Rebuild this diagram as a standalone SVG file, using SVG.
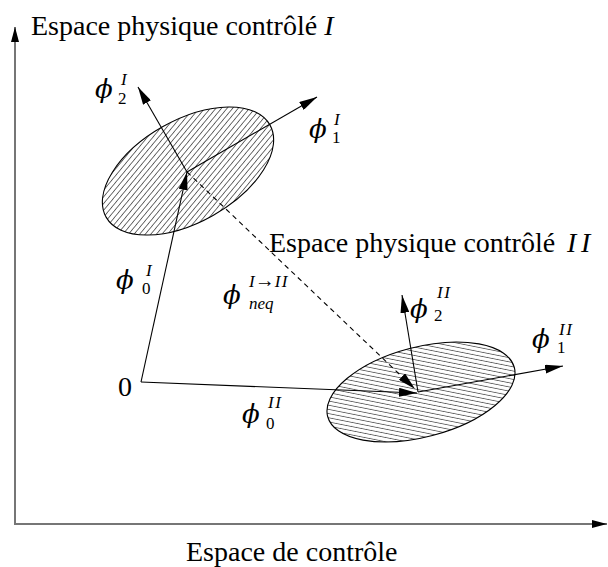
<svg xmlns="http://www.w3.org/2000/svg" width="608" height="567" viewBox="0 0 608 567">
<style>
.txt{font-family:"Liberation Serif","Times New Roman",serif;font-size:28px;fill:#000}
.it{font-style:italic}
.phi{font-family:"DejaVu Serif","Liberation Serif",serif;font-style:italic;font-size:26px;fill:#000}
.sc{font-family:"Liberation Serif","Times New Roman",serif;font-size:17px;fill:#000}
.ls{letter-spacing:1.5px}
.vec{stroke:#000;stroke-width:1.1;fill:none}
.axis{stroke:#767676;stroke-width:2;fill:none}
.ell{stroke:#000;stroke-width:1.1}
</style>
<defs>
<marker id="arr" viewBox="0 0 18 9" refX="18" refY="4.5" markerWidth="18" markerHeight="9" markerUnits="userSpaceOnUse" orient="auto">
<path d="M0,0 L18,4.5 L0,9 z" fill="#000"/>
</marker>
<marker id="axarr" viewBox="0 0 15 8" refX="15" refY="4" markerWidth="15" markerHeight="8" markerUnits="userSpaceOnUse" orient="auto">
<path d="M0,0 L15,4 L0,8 z" fill="#000"/>
</marker>
<pattern id="hatchI" patternUnits="userSpaceOnUse" width="12" height="4.3" patternTransform="rotate(-21)">
<line x1="0" y1="2.15" x2="12" y2="2.15" stroke="#000" stroke-width="0.6"/>
</pattern>
<pattern id="hatchII" patternUnits="userSpaceOnUse" width="12" height="4.1" patternTransform="rotate(26)">
<line x1="0" y1="2" x2="12" y2="2" stroke="#000" stroke-width="0.6"/>
</pattern>
</defs>

<g id="axes">
<line class="axis" x1="15" y1="524" x2="15" y2="27" marker-end="url(#axarr)"/>
<line class="axis" x1="14" y1="524" x2="607" y2="524" marker-end="url(#axarr)"/>
<text class="txt" x="31" y="35">Espace physique contrôlé <tspan class="it">I</tspan></text>
<text class="txt" x="186" y="561">Espace de contrôle</text>
</g>

<g id="ellipseI">
<ellipse class="ell" cx="188" cy="171" rx="94" ry="51" transform="rotate(-29.4 188 171)" fill="url(#hatchI)"/>
</g>

<g id="ellipseII">
<ellipse class="ell" cx="421" cy="392" rx="96.5" ry="45" transform="rotate(-14.7 421 392)" fill="url(#hatchII)"/>
<text class="txt" x="269" y="252">Espace physique contrôlé <tspan class="it" x="567">I</tspan><tspan class="it" x="581">I</tspan></text>
</g>

<g id="origin">
<text class="txt" x="118" y="396">0</text>
</g>

<g id="connectors">
<line class="vec" x1="141" y1="382" x2="187" y2="172" marker-end="url(#arr)"/>
<line class="vec" x1="141" y1="382" x2="417" y2="393" marker-end="url(#arr)"/>
<line class="vec" x1="187" y1="172" x2="317" y2="97" marker-end="url(#arr)"/>
<line class="vec" x1="187" y1="172" x2="138" y2="87" marker-end="url(#arr)"/>
<line class="vec" x1="418" y1="392" x2="402" y2="295" marker-end="url(#arr)"/>
<line class="vec" x1="418" y1="392" x2="563" y2="366" marker-end="url(#arr)"/>
<line class="vec" x1="187" y1="172" x2="415" y2="389" stroke-dasharray="5,4" marker-end="url(#arr)"/>
</g>

<g id="labels">
<text class="phi" x="95" y="98">ϕ</text><text class="sc it" x="121" y="85">I</text><text class="sc" x="118" y="104">2</text>
<text class="phi" x="309" y="138">ϕ</text><text class="sc it" x="334" y="125">I</text><text class="sc" x="332" y="143">1</text>
<text class="phi" x="116" y="289">ϕ</text><text class="sc it" x="146" y="276">I</text><text class="sc" x="142" y="294">0</text>
<text class="phi" x="223" y="304">ϕ</text><text class="sc it" x="249" y="287">I<tspan font-style="normal" font-size="20">→</tspan><tspan class="ls">II</tspan></text><text class="sc it" x="249" y="309">neq</text>
<text class="phi" x="242" y="423">ϕ</text><text class="sc it ls" x="268" y="408">II</text><text class="sc" x="266" y="429">0</text>
<text class="phi" x="410" y="318">ϕ</text><text class="sc it ls" x="437" y="298">II</text><text class="sc" x="434" y="321">2</text>
<text class="phi" x="532" y="348">ϕ</text><text class="sc it ls" x="559" y="335">II</text><text class="sc" x="557" y="353">1</text>
</g>
</svg>
